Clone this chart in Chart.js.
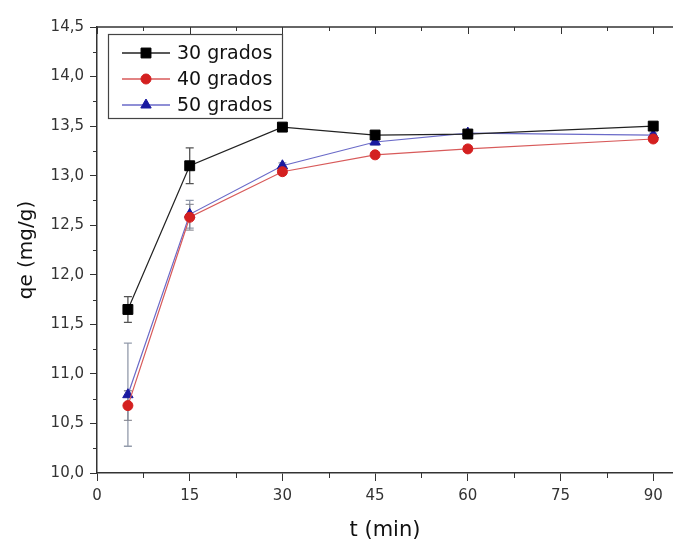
<!DOCTYPE html>
<html>
<head>
<meta charset="utf-8">
<script src="https://cdn.jsdelivr.net/npm/chart.js@4"></script>
<style>
  html, body { margin: 0; padding: 0; background: #fff; }
  #wrap { width: 673px; height: 543px; }
</style>
</head>
<body>
<div id="wrap"><canvas id="grafico"></canvas></div>
<script>
// datos
const tiempos = [5, 15, 30, 45, 60, 90];
const series = ['30 grados', '40 grados', '50 grados'];
const qe30 = [11.65, 13.10, 13.49, 13.41, 13.42, 13.50];
const qe40 = [10.68, 12.58, 13.04, 13.21, 13.27, 13.37];
const qe50 = [10.79, 12.61, 13.10, 13.34, 13.43, 13.41];
const err30 = [0.13, 0.18, 0.03, 0.03, 0.02, 0.03];
const err40 = [0.15, 0.13, 0.03, 0.02, 0.02, 0.02];
const err50 = [0.52, 0.14, 0.03, 0.03, 0.02, 0.02];
const xTicks = [0, 15, 30, 45, 60, 75, 90];
const yTicks = [10.0, 10.5, 11.0, 11.5, 12.0, 12.5, 13.0, 13.5, 14.0, 14.5];

const FUENTE = "'DejaVu Sans', sans-serif";

function puntos(vals) {
  return tiempos.map((t, i) => ({ x: t, y: vals[i] }));
}

const datasets = [
  { label: series[0], data: puntos(qe30), err: err30, borderColor: '#222', backgroundColor: '#000',
    pointStyle: 'rect', pointRadius: 7, errColor: 'rgba(40,40,40,0.8)' },
  { label: series[1], data: puntos(qe40), err: err40, borderColor: '#d85a5a', backgroundColor: '#d42020',
    pointStyle: 'circle', pointRadius: 5, errColor: 'rgba(120,120,130,0.8)' },
  { label: series[2], data: puntos(qe50), err: err50, borderColor: '#6a6ac8', backgroundColor: '#1a1aa0',
    pointStyle: 'triangle', pointRadius: 6, errColor: 'rgba(120,130,150,0.8)' }
].map(d => Object.assign(d, {
  borderWidth: 1.2,
  pointBorderColor: d.backgroundColor,
  pointBackgroundColor: d.backgroundColor,
  pointBorderWidth: 1,
  tension: 0,
  fill: false
}));

// barras de error
const barrasError = {
  id: 'barrasError',
  beforeDatasetsDraw(chart) {
    const ctx = chart.ctx;
    const xs = chart.scales.x, ys = chart.scales.y;
    chart.data.datasets.forEach(ds => {
      ctx.save();
      ctx.strokeStyle = ds.errColor;
      ctx.lineWidth = 1.3;
      ds.data.forEach((p, i) => {
        const e = ds.err[i];
        const x = xs.getPixelForValue(p.x);
        const y1 = ys.getPixelForValue(p.y + e);
        const y2 = ys.getPixelForValue(p.y - e);
        ctx.beginPath();
        ctx.moveTo(x, y1); ctx.lineTo(x, y2);
        ctx.moveTo(x - 4, y1); ctx.lineTo(x + 4, y1);
        ctx.moveTo(x - 4, y2); ctx.lineTo(x + 4, y2);
        ctx.stroke();
      });
      ctx.restore();
    });
  }
};

// marco superior y ticks menores
const marco = {
  id: 'marco',
  afterDraw(chart) {
    const ctx = chart.ctx;
    const a = chart.chartArea;
    const xs = chart.scales.x, ys = chart.scales.y;
    ctx.save();
    ctx.strokeStyle = '#333';
    ctx.lineWidth = 1.5;
    ctx.beginPath();
    ctx.moveTo(a.left, a.top); ctx.lineTo(a.right, a.top);
    ctx.stroke();
    ctx.lineWidth = 1;
    ctx.beginPath();
    // eje x: mayores arriba hacia dentro, menores abajo y arriba
    for (let v = 0; v <= xs.max; v += 7.5) {
      const x = Math.round(xs.getPixelForValue(v)) + 0.5;
      const mayor = v % 15 === 0;
      ctx.moveTo(x, a.top); ctx.lineTo(x, a.top + (mayor ? 7 : 4));
      if (!mayor) { ctx.moveTo(x, a.bottom); ctx.lineTo(x, a.bottom + 5); }
    }
    // eje y: menores a la izquierda
    for (let v = 10.25; v < 14.5; v += 0.5) {
      const y = Math.round(ys.getPixelForValue(v)) + 0.5;
      ctx.moveTo(a.left, y); ctx.lineTo(a.left - 4, y);
    }
    ctx.stroke();
    ctx.restore();
  }
};

// leyenda dentro del grafico
const leyenda = {
  id: 'leyenda',
  afterDraw(chart) {
    const ctx = chart.ctx;
    const bx = 108, by = 34, bw = 174, bh = 84;
    ctx.save();
    ctx.fillStyle = '#fff';
    ctx.fillRect(bx, by, bw, bh);
    ctx.strokeStyle = '#444';
    ctx.lineWidth = 1.2;
    ctx.strokeRect(bx + 0.5, by + 0.5, bw, bh);
    chart.data.datasets.forEach((ds, i) => {
      const y = 53 + i * 26;
      ctx.strokeStyle = ds.borderColor;
      ctx.lineWidth = 1.5;
      ctx.beginPath();
      ctx.moveTo(122, y); ctx.lineTo(170, y);
      ctx.stroke();
      ctx.fillStyle = ds.backgroundColor;
      ctx.strokeStyle = ds.backgroundColor;
      ctx.lineWidth = 1;
      Chart.helpers.drawPoint(ctx, { pointStyle: ds.pointStyle, radius: ds.pointRadius, borderWidth: 1 }, 146, y);
      ctx.fillStyle = '#111';
      ctx.font = "19px " + FUENTE;
      ctx.textBaseline = 'middle';
      ctx.fillText(ds.label, 177, y + 1);
    });
    ctx.restore();
  }
};

new Chart(document.getElementById('grafico'), {
  type: 'line',
  data: { datasets },
  options: {
    responsive: true,
    maintainAspectRatio: false,
    animation: false,
    layout: { autoPadding: false, padding: { top: 27, right: 0, left: 0, bottom: 0 } },
    plugins: { legend: { display: false }, tooltip: { enabled: false } },
    scales: {
      x: {
        type: 'linear',
        min: 0,
        max: 93.2,
        afterFit: s => { s.height = 70; },
        afterBuildTicks: s => { s.ticks = xTicks.map(v => ({ value: v })); },
        ticks: { color: '#333', padding: 6, maxRotation: 0, font: { family: FUENTE, size: 15 } },
        grid: { drawOnChartArea: false, tickLength: 8, tickColor: '#333', tickWidth: 1 },
        border: { color: '#333', width: 1.5 },
        title: { display: true, text: 't (min)', color: '#111', padding: { top: 0, bottom: 0 },
                 font: { family: FUENTE, size: 21 } }
      },
      y: {
        min: 10,
        max: 14.5,
        afterFit: s => { s.width = 97; },
        afterBuildTicks: s => { s.ticks = yTicks.map(v => ({ value: v })); },
        ticks: { color: '#333', padding: 6, font: { family: FUENTE, size: 15 },
                 callback: v => v.toFixed(1).replace('.', ',') },
        grid: { drawOnChartArea: false, tickLength: 7, tickColor: '#333', tickWidth: 1 },
        border: { color: '#333', width: 1.5 },
        title: { display: true, text: 'qe (mg/g)', color: '#111', padding: { top: 15, bottom: 0 },
                 font: { family: FUENTE, size: 20 } }
      }
    }
  },
  plugins: [barrasError, marco, leyenda]
});
</script>
</body>
</html>
